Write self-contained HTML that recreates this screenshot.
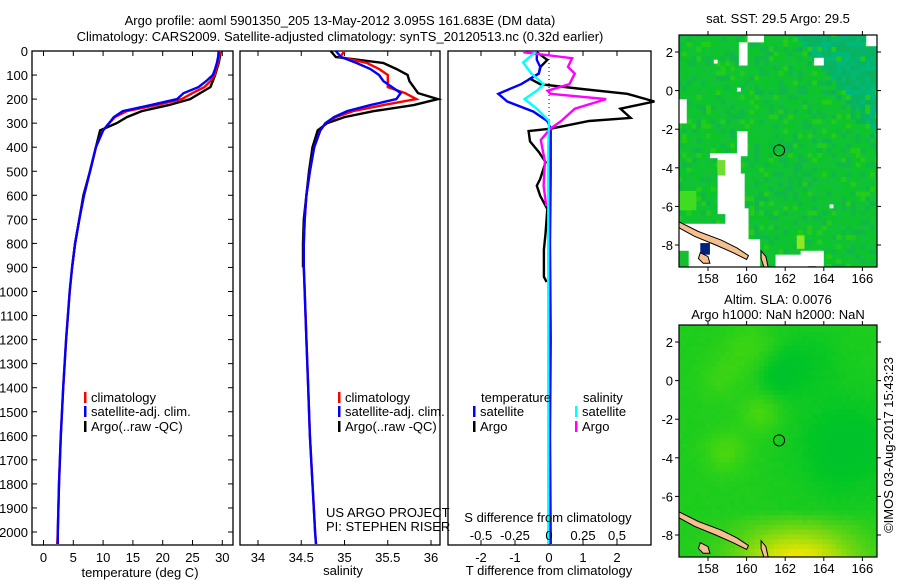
<!DOCTYPE html>
<html><head><meta charset="utf-8">
<style>
html,body{margin:0;padding:0;background:#fff;}
svg{display:block;font-family:"Liberation Sans",sans-serif;}
text{font-size:13px;fill:#000;}
</style></head>
<body>
<svg id="fig" width="900" height="580" viewBox="0 0 900 580">
<text x="340" y="25" text-anchor="middle">Argo profile: aoml 5901350_205 13-May-2012 3.095S 161.683E (DM data)</text>
<text x="340" y="41" text-anchor="middle">Climatology: CARS2009. Satellite-adjusted climatology: synTS_20120513.nc (0.32d earlier)</text>
<g id="p1"></g>
<g id="p2"></g>
<g id="p3"></g>
<g id="m1"></g>
<g id="m2"></g>
<text transform="translate(893,445) rotate(-90)" text-anchor="middle">©IMOS 03-Aug-2017 15:43:23</text>
</svg>
<script>
// ---- data ----
const depths = [0,25,50,75,100,125,150,175,200,225,250,275,300,330,400,500,600,700,800,900,1000,1200,1400,1600,1800,2000,2050];
const tempClim = [29.6,29.5,29.3,29,28.7,28,27,25,23.2,19,14,12,11,10,8.8,7.8,6.8,6,5.3,4.8,4.4,3.8,3.3,2.9,2.6,2.4,2.3];
const tempSat = [29.4,29.3,29.1,28.8,28.4,27.3,26,23.5,22.4,18,13.3,11.8,11,10,8.8,7.8,6.8,6,5.3,4.8,4.4,3.8,3.3,2.9,2.6,2.4,2.4];
const tempArgo = [29.7,29.6,29.4,29.1,28.8,28.4,28,26.3,24.6,21,16.5,14,12.3,9.5,8.8,7.8,6.7,6,5.3,4.8];
const salClim = [35.0,34.95,35.26,35.4,35.5,35.5,35.5,35.7,35.83,35.45,35.1,34.9,34.78,34.72,34.65,34.6,34.56,34.54,34.53,34.53,34.54,34.56,34.58,34.6,34.63,34.66,34.67];
const salSat = [34.9,34.96,35.14,35.3,35.4,35.45,35.55,35.65,35.6,35.3,35.03,34.88,34.78,34.72,34.65,34.6,34.56,34.54,34.53,34.53,34.54,34.56,34.58,34.6,34.63,34.66,34.67];
const salArgo = [34.84,34.9,35.45,35.6,35.73,35.75,35.8,35.85,36.08,35.8,35.34,35.0,34.8,34.69,34.63,34.59,34.56,34.53,34.52,34.52];
const diffDepths = [5,37,66,94,115,138,158,178,210,240,278,291,323,333,376,420,462,532,560,602,657,756,826,939,960];
const dTArgo = [-0.36,-0.05,-0.25,-0.3,-0.56,-0.26,0.97,2.3,3.1,2.1,2.4,1.18,0.05,-0.6,-0.56,-0.3,-0.1,-0.26,-0.36,-0.26,-0.05,-0.1,-0.15,-0.15,-0.07];
const dTSatDepths = [5,37,66,94,138,178,210,252,291,323,500,800,1200,1600,2050];
const dTSat = [-0.36,-0.36,-0.26,-0.3,-0.82,-1.49,-1.23,-0.46,-0.05,0.05,0.05,0.03,0.05,0.03,0.05];
const dSArgoDepths = [5,30,66,94,138,165,178,200,240,291,323,370,460,560,645];
const dSArgo = [-0.19,0.17,0.14,0.19,0.15,-0.01,0.01,0.42,0.19,0.09,0.01,-0.06,-0.03,-0.04,-0.02];
const dSSatDepths = [5,48,94,138,165,200,240,291,400,800,1200,1600,2050];
const dSSat = [-0.1,-0.19,-0.13,-0.04,-0.09,-0.18,-0.09,0,-0.005,-0.005,-0.005,-0.005,-0.005];
const depthTicks = [0,100,200,300,400,500,600,700,800,900,1000,1100,1200,1300,1400,1500,1600,1700,1800,1900,2000];
const tempTicks = [0,5,10,15,20,25,30];
const salTicks = [34,34.5,35,35.5,36];
const tdTicks = [-2,-1,0,1,2];
const sdTicks = [-0.5,-0.25,0,0.25,0.5];
const lonTicks = [158,160,162,164,166];
const latTicks = [2,0,-2,-4,-6,-8];
const floatLon = 161.683, floatLat = -3.095;

const NS="http://www.w3.org/2000/svg";
function el(tag, attrs, parent, txt){const e=document.createElementNS(NS,tag);for(const k in attrs)e.setAttribute(k,attrs[k]);if(txt!==undefined)e.textContent=txt;parent.appendChild(e);return e;}
const TOP=51, BOT=545;
const yD = d => 51 + d*0.2405;
const xT = t => 43.5 + t*5.96;
const xS = s => 258 + (s-34)*86.5;
const xTD = v => 549 + v*34;
const xSD = v => 549 + v*136;

function frame(g,x0,x1,name){
  const r=el('rect',{x:x0,y:TOP,width:x1-x0,height:BOT-TOP,fill:'none',stroke:'#000','stroke-width':1.3},g);
  
  
}
function line(g,xs,ys,xf,color,name,w){
  const pts=xs.map((v,i)=>xf(v).toFixed(1)+','+yD(ys[i]).toFixed(1)).join(' ');
  const p=el('polyline',{points:pts,fill:'none',stroke:color,'stroke-width':w||2.4,'stroke-linejoin':'miter'},g);
  
  
}
function xticks(g,ticks,xf,fmt,y){
  ticks.forEach(t=>{
    const x=xf(t);
    el('line',{x1:x,y1:BOT,x2:x,y2:BOT-5,stroke:'#000'},g);
    el('line',{x1:x,y1:TOP,x2:x,y2:TOP+5,stroke:'#000'},g);
    const tx=el('text',{x:x,y:y||562,'text-anchor':'middle'},g,fmt?fmt(t):String(t));
    
    
  });
}
function legendItem(g,x,y,color,label){
  el('rect',{x:x,y:y-10,width:2.5,height:11,fill:color},g);
  const t=el('text',{x:x+7,y:y},g,label);
  
  
}

// panel 1
const p1=document.getElementById('p1');
frame(p1,32,233,'temperature-axes');
depthTicks.forEach(d=>{
  const y=yD(d);
  el('line',{x1:32,y1:y,x2:37,y2:y,stroke:'#000'},p1);
  el('line',{x1:233,y1:y,x2:228,y2:y,stroke:'#000'},p1);
  const t=el('text',{x:28,y:y+5,'text-anchor':'end'},p1,String(d));
  
  
});
xticks(p1,tempTicks,xT);
el('text',{x:140,y:577,'text-anchor':'middle',},p1,'temperature (deg C)');
line(p1,tempArgo,depths.slice(0,tempArgo.length),xT,'#000','temp-argo-line');
line(p1,tempClim,depths,xT,'#f00','temp-clim-line');
line(p1,tempSat,depths,xT,'#00f','temp-sat-line');
legendItem(p1,84,402,'#f00','climatology');
legendItem(p1,84,416,'#00f','satellite-adj. clim.');
legendItem(p1,84,431,'#000','Argo(..raw -QC)');

// panel 2
const p2=document.getElementById('p2');
frame(p2,240,440,'salinity-axes');
xticks(p2,salTicks,xS);
el('text',{x:343,y:575,'text-anchor':'middle',},p2,'salinity');
line(p2,salArgo,depths.slice(0,salArgo.length),xS,'#000','sal-argo-line');
line(p2,salClim,depths,xS,'#f00','sal-clim-line');
line(p2,salSat,depths,xS,'#00f','sal-sat-line');
legendItem(p2,338,402,'#f00','climatology');
legendItem(p2,338,416,'#00f','satellite-adj. clim.');
legendItem(p2,338,431,'#000','Argo(..raw -QC)');
el('text',{x:326,y:517,},p2,'US ARGO PROJECT');
el('text',{x:326,y:531,},p2,'PI: STEPHEN RISER');

// panel 3
const p3=document.getElementById('p3');
frame(p3,448,651,'difference-axes');
xticks(p3,tdTicks,xTD);
el('text',{x:549,y:575,'text-anchor':'middle',},p3,'T difference from climatology');
el('line',{x1:549,y1:TOP,x2:549,y2:yD(330),stroke:'#000','stroke-dasharray':'1,3'},p3);
line(p3,dTArgo,diffDepths,xTD,'#000','tdiff-argo-line');
line(p3,dTSat,dTSatDepths,xTD,'#00f','tdiff-sat-line');
line(p3,dSArgo,dSArgoDepths,xSD,'#f0f','sdiff-argo-line');
line(p3,dSSat,dSSatDepths,xSD,'#0ff','sdiff-sat-line');
el('text',{x:548,y:522,'text-anchor':'middle',},p3,'S difference from climatology');
sdTicks.forEach(v=>{
  const t=el('text',{x:xSD(v),y:540,'text-anchor':'middle'},p3,String(v));
  
  
});
el('text',{x:481,y:402,},p3,'temperature');
el('text',{x:583,y:402,},p3,'salinity');
legendItem(p3,473,416,'#00f','satellite');
legendItem(p3,473,431,'#000','Argo');
legendItem(p3,575,416,'#0ff','satellite');
legendItem(p3,575,431,'#f0f','Argo');

// ---- maps ----
function hash(i,j){let h=(i*374761393+j*668265263)^0x5bd1e995;h=(h^(h>>>13))*1274126177;return ((h^(h>>>16))>>>0)/4294967295;}
function makeMap(g,top,title1,title2,colorFn,whites){
  const L=679,R=877,B=top+232;
  const lonX=lo=>708+(lo-158)*19.3;
  const latY=la=>(top+17)-(la-2)*19.3;
  const cell=0.25;
  for(let lo=156.4;lo<166.9;lo+=cell){
    for(let la=-9.2;la<2.9;la+=cell){
      const x=lonX(lo), y=latY(la+cell);
      el('rect',{x:x.toFixed(1),y:y.toFixed(1),width:(cell*19.3+0.6).toFixed(1),height:(cell*19.3+0.6).toFixed(1),fill:colorFn(lo,la,hash(Math.round(lo*4),Math.round(la*4)))},g);
    }
  }
  whites.forEach(w=>el('rect',{x:lonX(w[0]),y:latY(w[3]),width:(w[1]-w[0])*19.3,height:(w[3]-w[2])*19.3,fill:w[4]||'#fff'},g));
  const land=[[[156.3,-6.7],[157.5,-7.3],[158.7,-7.75],[159.5,-8.15],[160.1,-8.55],[160.0,-8.75],[159.3,-8.4],[158.4,-8.0],[157.3,-7.55],[156.3,-7.0]],
              [[160.75,-8.3],[161.0,-8.6],[161.15,-9.3],[160.95,-9.3],[160.75,-8.7]],
              [[157.6,-8.4],[158.0,-8.6],[158.1,-8.95],[157.75,-8.95],[157.5,-8.7]]];
  land.forEach(poly=>{
    const p=el('polygon',{points:poly.map(q=>lonX(q[0]).toFixed(1)+','+latY(q[1]).toFixed(1)).join(' '),fill:'#f5c090',stroke:'#000','stroke-width':1},g);
    
    
  });
  el('rect',{x:660,y:top-20,width:L-660,height:260,fill:'#fff'},g);
  el('rect',{x:R,y:top-20,width:20,height:260,fill:'#fff'},g);
  el('rect',{x:660,y:B,width:240,height:22,fill:'#fff'},g);
  el('rect',{x:660,y:top-12,width:240,height:12,fill:'#fff'},g);
  if(title2){ el('text',{x:778,y:top-21,'text-anchor':'middle',},g,title1);
              el('text',{x:778,y:top-6,'text-anchor':'middle',},g,title2);}
  else el('text',{x:778,y:top-12,'text-anchor':'middle',},g,title1);
  el('rect',{x:L,y:top,width:R-L,height:B-top,fill:'none',stroke:'#000','stroke-width':1.2},g);
  lonTicks.forEach(lo=>{const x=lonX(lo);
    el('line',{x1:x,y1:B,x2:x,y2:B+4,stroke:'#000'},g);el('line',{x1:x,y1:top,x2:x,y2:top-4,stroke:'#000'},g);
    const t=el('text',{x:x,y:B+16,'text-anchor':'middle'},g,String(lo));
    
    });
  latTicks.forEach(la=>{const y=latY(la);
    el('line',{x1:L,y1:y,x2:L-4,y2:y,stroke:'#000'},g);el('line',{x1:R,y1:y,x2:R+4,y2:y,stroke:'#000'},g);
    const t=el('text',{x:673,y:y+5,'text-anchor':'end'},g,String(la));
    
    });
  const c=el('circle',{cx:lonX(floatLon),cy:latY(floatLat),r:5.5,fill:'none',stroke:'#000','stroke-width':1},g);
  
  
}
function sstColor(lo,la,r){
  const teal = Math.max(0,Math.min(1,((lo-163)/3)*0.6 + ((la+1)/3)*0.5));
  if(r<0.35) return teal>0.5?'#06b468':'#12c236';
  if(r<0.7) return teal>0.5?'#00b878':'#0cc42c';
  if(r<0.9) return teal>0.4?'#0ab25a':'#10b848';
  return '#22cc18';
}
const sstWhite=[[159.6,160.05,1.3,2.5],[160.05,160.9,2.5,2.9],[166.2,166.8,2.3,2.9],[156.5,156.9,-1.7,-0.45],
  [159.5,160.05,-3.4,-2.1],[158.1,159.7,-3.5,-3.25],[158.5,159.7,-6.4,-3.4],[158.9,159.9,-7.2,-4.3],[159.2,160.1,-7.0,-6.1],
  [156.3,160.1,-9.3,-6.9],[160,160.7,-9.3,-7.7],[161.5,163.1,-9.3,-8.5],[162.8,164,-9.3,-8.3],
  [163.5,164,1.3,1.7],[164.3,164.5,-6.1,-5.9],[158.3,158.5,1.4,1.6],[159.5,159.7,-0.05,0.15],
  [156.3,157,-9.3,-8.3,'#14c030'],[157.6,158.1,-8.5,-7.9,'#002080'],[163.2,163.6,-9.3,-9.1,'#002080'],
  [158.5,158.9,-4.4,-3.6,'#70dd30'],[156.5,157.4,-6.2,-5.2,'#40dc20'],[162.6,163.0,-8.2,-7.5,'#90e820']];
makeMap(document.getElementById('m1'),35,'sat. SST: 29.5 Argo: 29.5',null,sstColor,sstWhite);
function slaColor(lo,la,r){
  const g=(a,b,s)=>Math.exp(-((lo-a)**2+(la-b)**2)/(2*s*s));
  let v = 0.35*g(158.8,-3.8,0.8)+0.35*g(160.6,-1.8,0.7)+0.25*g(160,1.5,1)+0.2*g(158.5,0,0.8)
        -0.35*g(165,-3.5,1.8)-0.3*g(161.5,0.2,0.8)-0.2*g(163,1,1.2);
  const yel = Math.max(0,Math.min(1,(-6.8-la)/2.2))*Math.exp(-((lo-162.5)**2)/(2*2.2*2.2));
  let R=30+v*120, G=205+v*30, B=30-v*40;
  R=R+(235-R)*yel; G=G+(230-G)*yel; B=B*(1-yel);
  R+= (r-0.5)*8;
  return 'rgb('+Math.max(0,Math.min(255,R|0))+','+Math.max(0,Math.min(255,G|0))+','+Math.max(0,Math.min(255,B|0))+')';
}
makeMap(document.getElementById('m2'),325,'Altim. SLA: 0.0076','Argo h1000: NaN h2000: NaN',slaColor,[]);
</script>
</body></html>
